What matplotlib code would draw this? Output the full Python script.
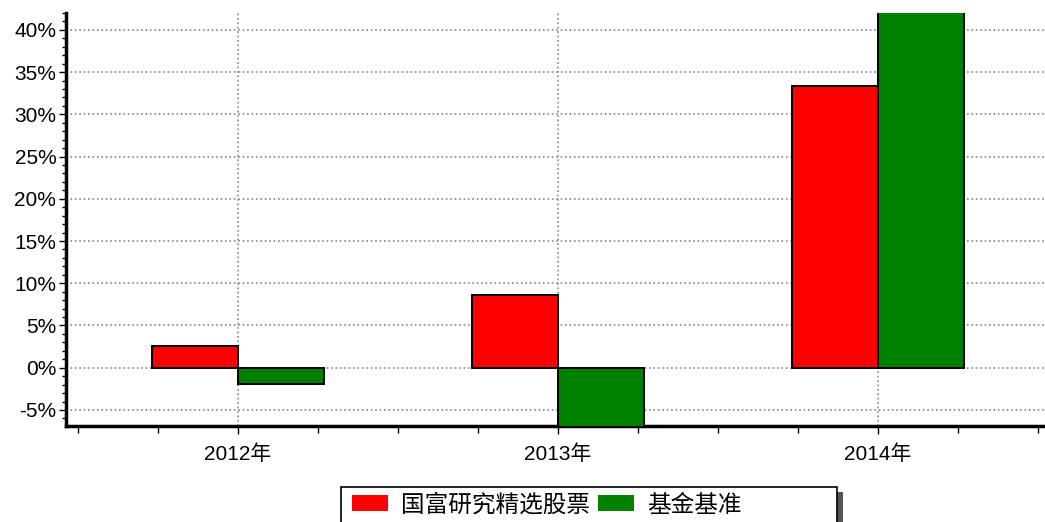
import matplotlib
matplotlib.use('Agg')
import matplotlib.pyplot as plt
import numpy as np
from matplotlib.ticker import MultipleLocator, FuncFormatter
from matplotlib.patches import Rectangle

# values (percent)
years = ['2012年', '2013年', '2014年']
fund = [2.6, 8.6, 33.4]
bench = [-1.9, -7.5, 45.0]
series_names = ['国富研究精选股票', '基金基准']

plt.rcParams['font.family'] = ['Liberation Sans', 'Noto Sans CJK SC', 'DejaVu Sans']

W, H = 1045, 522
fig = plt.figure(figsize=(W / 100, H / 100), dpi=100)
ax = fig.add_axes([66 / W, 96 / H, 1 - 66 / W, (426 - 13) / H])

x = np.arange(len(years))
w = 0.27
b1 = ax.bar(x - w / 2, fund, w, color='#ff0000', edgecolor='black', linewidth=1.4, zorder=3)
b2 = ax.bar(x + w / 2, bench, w, color='#008000', edgecolor='black', linewidth=1.4, zorder=3)

ax.set_xlim(-0.5375, 2.522)
ax.set_ylim(-6.9, 42.0)

ax.yaxis.set_major_locator(MultipleLocator(5))
ax.yaxis.set_minor_locator(MultipleLocator(1))
ax.yaxis.set_major_formatter(FuncFormatter(lambda v, p: f'{v:.0f}%'))
ax.set_xticks(x)
ax.set_xticklabels(years)
ax.xaxis.set_minor_locator(MultipleLocator(0.25))

ax.tick_params(axis='y', which='major', length=5, width=1, labelsize=15, pad=2)
ax.tick_params(axis='y', which='minor', length=3, width=1)
ax.tick_params(axis='x', which='major', length=6, width=1, labelsize=15, pad=7)
ax.tick_params(axis='x', which='minor', length=5, width=1)

for s in ['top', 'right']:
    ax.spines[s].set_visible(False)
ax.spines['left'].set_linewidth(2.5)
ax.spines['bottom'].set_linewidth(2.5)

ax.grid(True, which='major', linestyle=':', color='#888888', linewidth=1.2, zorder=0)
ax.set_axisbelow(True)

# legend box drawn by hand: wider than its contents, with a dark shadow on the right
shadow = Rectangle((347 / W, -0.05), (837 - 341) / W, (522 - 492) / H + 0.05,
                   transform=fig.transFigure, facecolor='#555555', edgecolor='none', zorder=1)
box = Rectangle((341 / W, -0.05), (837 - 341) / W, (522 - 487) / H + 0.05,
                transform=fig.transFigure, facecolor='white', edgecolor='black',
                linewidth=1.2, zorder=2)
fig.patches.extend([shadow, box])

leg = fig.legend([b1, b2], series_names, loc='center left',
                 bbox_to_anchor=(352 / W, 1 - 505 / H), ncol=2, frameon=False,
                 prop={'family': ['Noto Sans CJK SC', 'DejaVu Sans'], 'size': 17},
                 handlelength=1.52, handleheight=0.64, columnspacing=0.35, handletextpad=0.55,
                 borderpad=0, borderaxespad=0)
leg.set_zorder(3)
for h in leg.legend_handles:
    h.set_linewidth(0)

fig.savefig('out.png', dpi=100)
